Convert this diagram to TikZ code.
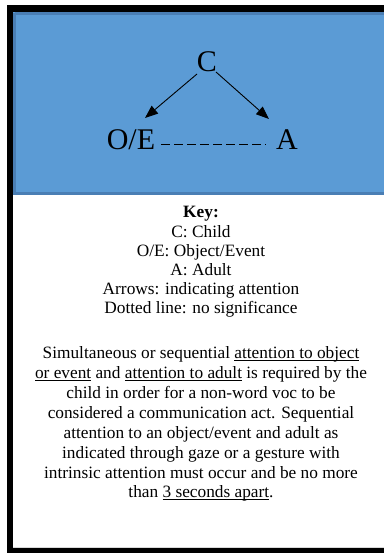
\documentclass[tikz,border=0pt]{standalone}
\usepackage{fontspec}
\setmainfont{Liberation Serif}
\usetikzlibrary{arrows.meta}
\definecolor{panelblue}{HTML}{5B9BD5}
\definecolor{paneledge}{HTML}{4A7EB4}
% underline at a fixed depth below the baseline, ignoring descenders
\newsavebox\ulinebox
\newcommand\ulfixed[1]{\sbox\ulinebox{#1}\rlap{\rule[-2.4bp]{\wd\ulinebox}{0.75bp}}\usebox\ulinebox}
\begin{document}
\begin{tikzpicture}[x=1bp,y=-1bp,
  big/.style={inner sep=0pt,anchor=base,font=\fontsize{30bp}{36bp}\selectfont},
  keyline/.style={inner sep=0pt,anchor=base,font=\fontsize{17.3bp}{20bp}\selectfont},
  attn/.style={line width=0.9bp,-{Triangle[length=13bp,width=10bp]}},
  link/.style={line width=0.9bp,dash pattern=on 8.5bp off 4.5bp}]
  \useasboundingbox (0,0) rectangle (383,553);
  % outer black frame and white page
  \fill[black] (7,5) rectangle (400,570);
  \fill[white] (13,12) rectangle (400,548);
  \draw[black!15,line width=0.8bp] (13,547.6) -- (400,547.6);
  % blue panel
  \fill[panelblue] (13,12) rectangle (400,195);
  \draw[paneledge,line width=3bp] (14.5,13.5) -- (14.5,193.5) -- (400,193.5);
  \draw[paneledge,line width=3bp] (14.5,13.5) -- (400,13.5);
  % triangle of attention
  \node[big] (c) at (207,72) {C};
  \node[big] (oe) at (131,150) {O/E};
  \node[big] (a) at (287,150) {A};
  \coordinate (c1) at (197,74);
  \coordinate (c2) at (216,72);
  \coordinate (oetip) at (145,118);
  \coordinate (atip) at (269,119);
  \coordinate (d1) at (161,144);
  \coordinate (d2) at (266,144);
  \draw[attn] (c1) -- (oetip);
  \draw[attn] (c2) -- (atip);
  \draw[link] (d1) -- (d2);
  % key
  \node[keyline] (k0) at (201,218) {\bfseries Key:};
  \node[keyline] (k1) at (201,237) {C: Child};
  \node[keyline] (k2) at (201,256) {O/E: Object/Event};
  \node[keyline] (k3) at (201,275) {A: Adult};
  \node[keyline] (k4) at (201,294) {Arrows: indicating attention};
  \node[keyline] (k5) at (201,313) {Dotted line: no significance};
  % definition paragraph
  \node[keyline] (p1) at (201,358) {Simultaneous or sequential \ulfixed{attention to object}};
  \node[keyline] (p2) at (201,378) {\ulfixed{or event} and \ulfixed{attention to adult} is required by the};
  \node[keyline] (p3) at (201,398) {child in order for a non-word voc to be};
  \node[keyline] (p4) at (201,418) {considered a communication act. Sequential};
  \node[keyline] (p5) at (201,438) {attention to an object/event and adult as};
  \node[keyline] (p6) at (201,458) {indicated through gaze or a gesture with};
  \node[keyline] (p7) at (201,478) {intrinsic attention must occur and be no more};
  \node[keyline] (p8) at (201,497) {than \ulfixed{3 seconds apart}.};
\end{tikzpicture}
\end{document}
